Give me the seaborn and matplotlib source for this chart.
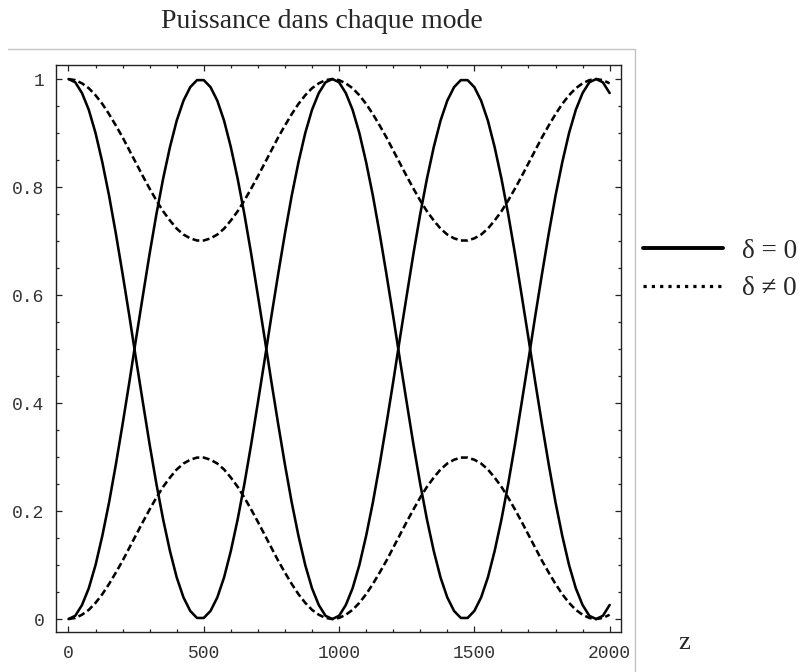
import matplotlib
matplotlib.use("Agg")
import matplotlib.pyplot as plt
import seaborn as sns
import pandas as pd
from matplotlib.lines import Line2D

# ---------------- data ----------------
z = list(range(0, 2001, 25))

mode1_delta0 = [
    1.000, 0.994, 0.974, 0.943, 0.900, 0.846, 0.784, 0.714, 0.639, 0.561,
    0.480, 0.401, 0.323, 0.250, 0.184, 0.126, 0.077, 0.040, 0.015, 0.002,
    0.002, 0.015, 0.040, 0.077, 0.126, 0.184, 0.250, 0.323, 0.401, 0.480,
    0.561, 0.639, 0.714, 0.784, 0.846, 0.900, 0.943, 0.974, 0.994, 1.000,
    0.994, 0.974, 0.943, 0.900, 0.846, 0.784, 0.714, 0.639, 0.561, 0.480,
    0.401, 0.323, 0.250, 0.184, 0.126, 0.077, 0.040, 0.015, 0.002,
    0.002, 0.015, 0.040, 0.077, 0.126, 0.184, 0.250, 0.323, 0.401, 0.480,
    0.561, 0.639, 0.714, 0.784, 0.846, 0.900, 0.943, 0.974, 0.994, 1.000,
    0.994, 0.974,
]
mode2_delta0 = [
    0.000, 0.006, 0.026, 0.057, 0.100, 0.154, 0.216, 0.286, 0.361, 0.439,
    0.520, 0.599, 0.677, 0.750, 0.816, 0.874, 0.923, 0.960, 0.985, 0.998,
    0.998, 0.985, 0.960, 0.923, 0.874, 0.816, 0.750, 0.677, 0.599, 0.520,
    0.439, 0.361, 0.286, 0.216, 0.154, 0.100, 0.057, 0.026, 0.006, 0.000,
    0.006, 0.026, 0.057, 0.100, 0.154, 0.216, 0.286, 0.361, 0.439, 0.520,
    0.599, 0.677, 0.750, 0.816, 0.874, 0.923, 0.960, 0.985, 0.998,
    0.998, 0.985, 0.960, 0.923, 0.874, 0.816, 0.750, 0.677, 0.599, 0.520,
    0.439, 0.361, 0.286, 0.216, 0.154, 0.100, 0.057, 0.026, 0.006, 0.000,
    0.006, 0.026,
]
mode1_delta = [
    1.000, 0.998, 0.992, 0.983, 0.970, 0.954, 0.935, 0.914, 0.892, 0.868,
    0.844, 0.820, 0.797, 0.775, 0.755, 0.738, 0.723, 0.712, 0.705, 0.701,
    0.701, 0.705, 0.712, 0.723, 0.738, 0.755, 0.775, 0.797, 0.820, 0.844,
    0.868, 0.892, 0.914, 0.935, 0.954, 0.970, 0.983, 0.992, 0.998, 1.000,
    0.998, 0.992, 0.983, 0.970, 0.954, 0.935, 0.914, 0.892, 0.868, 0.844,
    0.820, 0.797, 0.775, 0.755, 0.738, 0.723, 0.712, 0.705, 0.701,
    0.701, 0.705, 0.712, 0.723, 0.738, 0.755, 0.775, 0.797, 0.820, 0.844,
    0.868, 0.892, 0.914, 0.935, 0.954, 0.970, 0.983, 0.992, 0.998, 1.000,
    0.998, 0.992,
]
mode2_delta = [
    0.000, 0.002, 0.008, 0.017, 0.030, 0.046, 0.065, 0.086, 0.108, 0.132,
    0.156, 0.180, 0.203, 0.225, 0.245, 0.262, 0.277, 0.288, 0.295, 0.299,
    0.299, 0.295, 0.288, 0.277, 0.262, 0.245, 0.225, 0.203, 0.180, 0.156,
    0.132, 0.108, 0.086, 0.065, 0.046, 0.030, 0.017, 0.008, 0.002, 0.000,
    0.002, 0.008, 0.017, 0.030, 0.046, 0.065, 0.086, 0.108, 0.132, 0.156,
    0.180, 0.203, 0.225, 0.245, 0.262, 0.277, 0.288, 0.295, 0.299,
    0.299, 0.295, 0.288, 0.277, 0.262, 0.245, 0.225, 0.203, 0.180, 0.156,
    0.132, 0.108, 0.086, 0.065, 0.046, 0.030, 0.017, 0.008, 0.002, 0.000,
    0.002, 0.008,
]

x_ticks = [0, 500, 1000, 1500, 2000]
x_tick_labels = ["0", "500", "1000", "1500", "2000"]
y_ticks = [0, 0.2, 0.4, 0.6, 0.8, 1.0]
y_tick_labels = ["0", "0.2", "0.4", "0.6", "0.8", "1"]
legend_labels = ["\u03b4 = 0", "\u03b4 \u2260 0"]
title = "Puissance dans chaque mode"
x_label = "z"

# ---------------- long table ----------------
frames = []
for name, vals, kind in [
    ("m1_d0", mode1_delta0, "d0"),
    ("m2_d0", mode2_delta0, "d0"),
    ("m1_d", mode1_delta, "d"),
    ("m2_d", mode2_delta, "d"),
]:
    frames.append(pd.DataFrame({"z": z, "P": vals, "curve": name, "kind": kind}))
df = pd.concat(frames, ignore_index=True)

# ---------------- style ----------------
sns.set_style("white")
plt.rcParams["font.family"] = ["Liberation Serif", "DejaVu Serif"]

W, H = 799, 672
fig = plt.figure(figsize=(W / 100, H / 100), dpi=100)
ax = fig.add_axes([55.5 / W, 1 - 632 / H, (621 - 55.5) / W, (632 - 65) / H])

sns.lineplot(
    data=df, x="z", y="P", hue="curve", style="kind",
    palette={c: "black" for c in df["curve"].unique()},
    dashes={"d0": "", "d": (2.7, 1.35)},
    linewidth=1.85, legend=False, sort=False, ax=ax,
)

ax.set_xlim(-48, 2042)
ax.set_ylim(-0.024, 1.026)
ax.set_xlabel("")
ax.set_ylabel("")

ax.set_xticks(x_ticks)
ax.set_xticklabels(x_tick_labels)
ax.set_yticks(y_ticks)
ax.set_yticklabels(y_tick_labels)
ax.set_xticks(list(range(0, 2001, 100)), minor=True)
ax.set_yticks([i * 0.05 for i in range(21)], minor=True)

mono = ["Liberation Mono", "DejaVu Sans Mono"]
for lab in ax.get_xticklabels() + ax.get_yticklabels():
    lab.set_family(mono)
    lab.set_fontsize(13)
    lab.set_color("#333333")

ax.tick_params(which="both", direction="in", top=True, right=True,
               bottom=True, left=True, color="#222222", width=0.9)
ax.tick_params(which="major", length=4)
ax.tick_params(which="minor", length=2.4)
ax.tick_params(axis="x", which="major", pad=9)
ax.tick_params(axis="y", which="major", pad=8)

for s in ax.spines.values():
    s.set_visible(True)
    s.set_color("#222222")
    s.set_linewidth(1.0)

# outer light grey frame (top and right)
fig.add_artist(Line2D([8 / W, 635 / W], [1 - 49 / H, 1 - 49 / H],
                      transform=fig.transFigure, color="#c4c4c4", lw=1.0))
fig.add_artist(Line2D([635 / W, 635 / W], [1 - 49 / H, 0],
                      transform=fig.transFigure, color="#c4c4c4", lw=1.0))

# title and axis label
fig.text(322 / W, 1 - 28 / H, title, ha="center", va="baseline", fontsize=20)
fig.text(684 / W, 1 - 649 / H, x_label, ha="center", va="baseline", fontsize=19)

# legend
handles = [
    Line2D([], [], color="black", lw=2.8),
    Line2D([], [], color="black", lw=2.3, linestyle=(0, (1.0, 1.6)),
           dash_capstyle="butt"),
]
fig.legend(handles, legend_labels, loc="center left",
           bbox_to_anchor=(643 / W, 1 - 270 / H), frameon=False,
           fontsize=19.5, handlelength=2.96, handletextpad=0.7,
           labelspacing=0.45, borderpad=0, borderaxespad=0)

fig.savefig("out.png", dpi=100)
